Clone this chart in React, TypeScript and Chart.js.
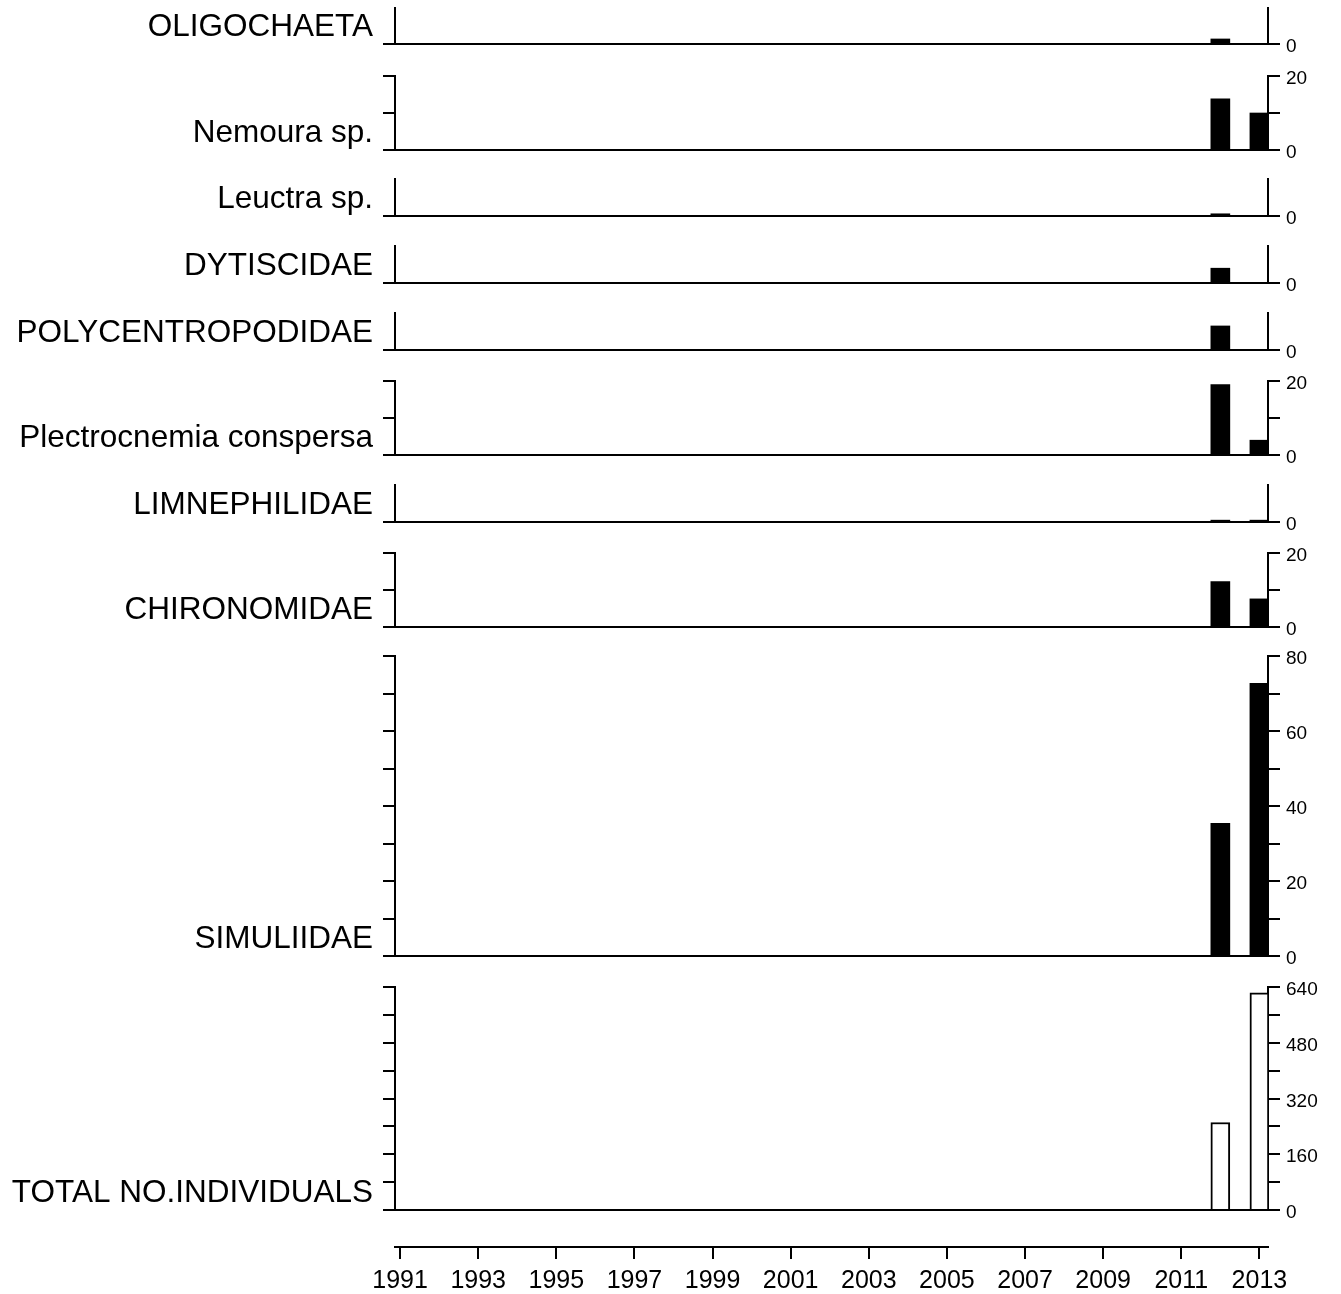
import React, { useEffect, useRef } from 'react';
import { Chart, registerables } from 'chart.js';

Chart.register(...registerables);
Chart.defaults.font.family = '"Liberation Sans", Arial, Helvetica, sans-serif';
Chart.defaults.color = '#000';

// ---------- data ----------
const sampleYears = [2012, 2013];

const oligochaeta = [1.4, 0];
const nemoura = [13.8, 10];
const leuctra = [0.6, 0];
const dytiscidae = [4, 0];
const polycentropodidae = [6.5, 0];
const plectrocnemia = [19, 4];
const limnephilidae = [0.5, 0.5];
const chironomidae = [12.3, 7.6];
const simuliidae = [35.4, 72.7];
const totalIndividuals = [251, 623];

const taxonNames = [
  'OLIGOCHAETA',
  'Nemoura sp.',
  'Leuctra sp.',
  'DYTISCIDAE',
  'POLYCENTROPODIDAE',
  'Plectrocnemia conspersa',
  'LIMNEPHILIDAE',
  'CHIRONOMIDAE',
  'SIMULIIDAE',
  'TOTAL NO.INDIVIDUALS',
];
const taxonSeries = [
  oligochaeta,
  nemoura,
  leuctra,
  dytiscidae,
  polycentropodidae,
  plectrocnemia,
  limnephilidae,
  chironomidae,
  simuliidae,
  totalIndividuals,
];

// axis maxima and ticks
const axisMax = [10, 20, 10, 10, 10, 20, 10, 20, 80, 640];
const ticksSmall = [0];
const ticks20 = [0, 10, 20];
const ticks80 = [0, 10, 20, 30, 40, 50, 60, 70, 80];
const ticks640 = [0, 80, 160, 240, 320, 400, 480, 560, 640];
const labelsSmall = [0];
const labels20 = [0, 20];
const labels80 = [0, 20, 40, 60, 80];
const labels640 = [0, 160, 320, 480, 640];
const panelTicks = [ticksSmall, ticks20, ticksSmall, ticksSmall, ticksSmall, ticks20, ticksSmall, ticks20, ticks80, ticks640];
const panelTickLabels = [labelsSmall, labels20, labelsSmall, labelsSmall, labelsSmall, labels20, labelsSmall, labels20, labels80, labels640];

const yearTicks = [1991, 1993, 1995, 1997, 1999, 2001, 2003, 2005, 2007, 2009, 2011, 2013];
const X_MIN = 1990.87;
const X_MAX = 2013.22;

// ---------- layout (pixels) ----------
const PAGE_W = 1341;
const PLOT_LEFT = 395;
const PLOT_RIGHT = 1268;
const PAD = 22;
// [axis top, baseline] of each panel
const panelTop = [8, 76, 179, 246, 313, 381, 485, 553, 656, 987];
const panelBase = [44, 150, 216, 283, 350, 455, 522, 627, 956, 1210];

const BLACK = '#000';

const taxonLabelPlugin = {
  id: 'taxonLabel',
  afterDraw(chart: any, _args: any, opts: any) {
    const { ctx } = chart;
    const y = chart.scales.y.getPixelForValue(0);
    ctx.save();
    ctx.font = '31.5px "Liberation Sans", Arial, Helvetica, sans-serif';
    ctx.fillStyle = BLACK;
    ctx.textAlign = 'right';
    ctx.textBaseline = 'alphabetic';
    ctx.fillText(opts.text, chart.chartArea.left - 22, y - 8);
    ctx.restore();
  },
};

function Panel({ index }: { index: number }) {
  const ref = useRef<HTMLCanvasElement | null>(null);
  const top = panelTop[index];
  const base = panelBase[index];
  const h = base - top + PAD * 2;

  useEffect(() => {
    if (!ref.current) return;
    const values = taxonSeries[index];
    const isTotal = index === taxonSeries.length - 1;
    const ticks = panelTicks[index];
    const tickLabels = panelTickLabels[index];
    const chart = new Chart(ref.current, {
      type: 'bar',
      data: {
        datasets: [
          {
            data: sampleYears.map((yr, i) => ({ x: yr, y: values[i] })),
            backgroundColor: isTotal ? '#fff' : BLACK,
            borderColor: BLACK,
            borderWidth: isTotal ? 2 : 0,
            barThickness: 19,
            yAxisID: 'y',
          } as any,
        ],
      },
      plugins: [taxonLabelPlugin as any],
      options: {
        animation: false,
        responsive: false,
        maintainAspectRatio: false,
        devicePixelRatio: 1,
        events: [],
        layout: { padding: { top: PAD, bottom: PAD, left: 0, right: 0 } },
        plugins: {
          legend: { display: false },
          tooltip: { enabled: false },
          taxonLabel: { text: taxonNames[index] },
        } as any,
        scales: {
          x: {
            type: 'linear',
            display: false,
            offset: false,
            grid: { offset: false },
            min: X_MIN,
            max: X_MAX,
          } as any,
          y: {
            position: 'left',
            min: 0,
            max: axisMax[index],
            afterBuildTicks: (s: any) => {
              s.ticks = ticks.map((v) => ({ value: v }));
            },
            afterFit: (s: any) => {
              s.width = PLOT_LEFT;
            },
            ticks: { display: false },
            grid: {
              drawOnChartArea: true,
              color: (c: any) => (c.tick && c.tick.value === 0 ? BLACK : 'rgba(0,0,0,0)'),
              tickColor: BLACK,
              tickLength: 12,
              lineWidth: 2,
              tickWidth: 2,
            },
            border: { display: true, color: BLACK, width: 2 },
          } as any,
          yRight: {
            position: 'right',
            min: 0,
            max: axisMax[index],
            afterBuildTicks: (s: any) => {
              s.ticks = ticks.map((v) => ({ value: v }));
            },
            afterFit: (s: any) => {
              s.width = PAGE_W - PLOT_RIGHT;
            },
            ticks: {
              autoSkip: false,
              color: BLACK,
              font: { size: 19 },
              padding: 6,
              labelOffset: 3,
              callback: (v: any) => (tickLabels.includes(Number(v)) ? String(v) : ''),
            },
            grid: {
              drawOnChartArea: false,
              color: BLACK,
              tickColor: BLACK,
              tickLength: 12,
              lineWidth: 2,
              tickWidth: 2,
            },
            border: { display: true, color: BLACK, width: 2 },
          } as any,
        },
      },
    });
    return () => chart.destroy();
  }, [index]);

  return (
    <canvas
      ref={ref}
      width={PAGE_W}
      height={h}
      style={{ position: 'absolute', left: 0, top: top - PAD, width: PAGE_W, height: h }}
    />
  );
}

function YearAxis() {
  const ref = useRef<HTMLCanvasElement | null>(null);
  const top = 1230;
  const h = 64;
  useEffect(() => {
    if (!ref.current) return;
    const chart = new Chart(ref.current, {
      type: 'bar',
      data: { datasets: [{ data: [] as any[] }] },
      options: {
        animation: false,
        responsive: false,
        maintainAspectRatio: false,
        devicePixelRatio: 1,
        events: [],
        layout: { padding: { left: PLOT_LEFT, right: PAGE_W - PLOT_RIGHT, top: 0, bottom: 0 } },
        plugins: { legend: { display: false }, tooltip: { enabled: false } },
        scales: {
          x: {
            type: 'linear',
            position: 'bottom',
            offset: false,
            min: X_MIN,
            max: X_MAX,
            afterBuildTicks: (s: any) => {
              s.ticks = yearTicks.map((v) => ({ value: v }));
            },
            afterFit: (s: any) => {
              s.height = 47;
            },
            ticks: {
              autoSkip: false,
              maxRotation: 0,
              color: BLACK,
              font: { size: 25 },
              padding: 7,
              callback: (v: any) => String(v),
            },
            grid: {
              offset: false,
              drawOnChartArea: false,
              color: BLACK,
              tickColor: BLACK,
              tickLength: 12,
              lineWidth: 2,
            },
            border: { display: true, color: BLACK, width: 2 },
          } as any,
          y: { display: false, min: 0, max: 1 },
        },
      },
    });
    return () => chart.destroy();
  }, []);
  return (
    <canvas
      ref={ref}
      width={PAGE_W}
      height={h}
      style={{ position: 'absolute', left: 0, top, width: PAGE_W, height: h }}
    />
  );
}

export default function App() {
  return (
    <div
      style={{
        position: 'absolute',
        left: 0,
        top: 0,
        width: PAGE_W,
        height: 1294,
        background: '#fff',
        overflow: 'hidden',
      }}
    >
      {taxonNames.map((_, i) => (
        <Panel key={i} index={i} />
      ))}
      <YearAxis />
    </div>
  );
}
